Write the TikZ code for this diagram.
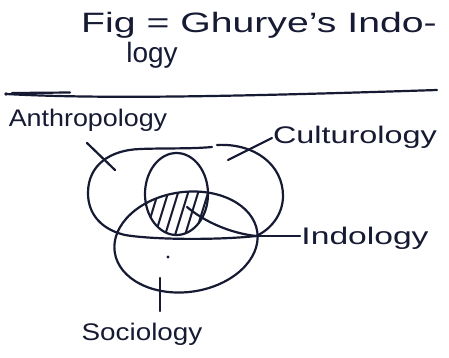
\documentclass[tikz,border=0pt]{standalone}
\usepackage{fontspec}
\setmainfont{Liberation Sans}
\usetikzlibrary{shapes.geometric}
\definecolor{ink}{HTML}{161A33}
\tikzset{
  oval/.style={draw=ink, ellipse, line width=2.2pt, inner sep=0pt},
  stroke/.style={draw=ink, line width=2.2pt, line cap=round, line join=round},
  lbl/.style={text=ink, font=\fontsize{24}{28}\selectfont, inner sep=0pt},
  ttl/.style={text=ink, font=\fontsize{28}{32}\selectfont, inner sep=0pt},
  hatch/.style={draw=ink, line width=2pt},
}
\begin{document}
\begin{tikzpicture}[x=1pt,y=-1pt]
\useasboundingbox (0,0) rectangle (449,357);
\fill[white] (0,0) rectangle (449,357);
% title
\node[ttl] (t1) at (259,25) {\scalebox{1.4}[1]{Fig = Ghurye's Indo-}};
\node[ttl] (t2) at (152,55) {logy};
% rule
\coordinate (r1) at (6,94);
\coordinate (r2) at (437,90);
\draw[stroke] (r1) .. controls (100,99) and (220,97) .. (r2);
\draw[stroke] (12,93) -- (70,92.5);
\fill[ink] (r1) circle (1.8pt);
% upper (anthropology / culturology) outline
\draw[stroke] (88,193) .. controls (88,165) and (110,150) .. (140,149)
  .. controls (165,148) and (190,149) .. (212,147);
\draw[stroke] (217,145) .. controls (255,143) and (283,165) .. (283,196)
  .. controls (283,215) and (270,230) .. (256,236)
  .. controls (220,240) and (155,240) .. (125,235)
  .. controls (100,229) and (88,213) .. (88,193);
\draw[stroke] (187,207) .. controls (205,222) and (230,233) .. (256,236);
% middle circle and sociology
\node[oval, minimum width=63pt, minimum height=82pt] (C) at (176.5,194) {};
\node[oval, minimum width=144pt, minimum height=100pt, rotate=8] (S) at (186,242) {};
% hatching
\begin{scope}
  \clip (176.5,194) ellipse [x radius=31.5pt, y radius=41pt];
  \clip[rotate around={8:(186,242)}] (186,242) ellipse [x radius=72pt, y radius=50pt];
  \foreach \i in {0,...,6} \draw[hatch] (132+10*\i,245) -- (152+10*\i,180);
\end{scope}
\fill[ink] (168,257) circle (1.6pt);
% labels
\node[lbl] (anth) at (88,120) {\scalebox{1.12}[1]{Anthropology}};
\node[lbl] (cult) at (355,137) {\scalebox{1.35}[1]{Culturology}};
\node[lbl] (indo) at (365,238) {\scalebox{1.4}[1]{Indology}};
\node[lbl] (soc) at (142,334) {\scalebox{1.16}[1]{Sociology}};
% pointers
\coordinate (pa1) at (87,143);
\coordinate (pa2) at (115,170);
\coordinate (pc1) at (228,160);
\coordinate (pc2) at (272,138);
\coordinate (pi1) at (256,236);
\coordinate (pi2) at (300,236);
\coordinate (ps1) at (160,278);
\coordinate (ps2) at (160,311);
\draw[stroke] (pa1) -- (pa2);
\draw[stroke] (pc1) -- (pc2);
\draw[stroke] (pi1) -- (pi2);
\draw[stroke] (ps1) -- (ps2);
\end{tikzpicture}
\end{document}
